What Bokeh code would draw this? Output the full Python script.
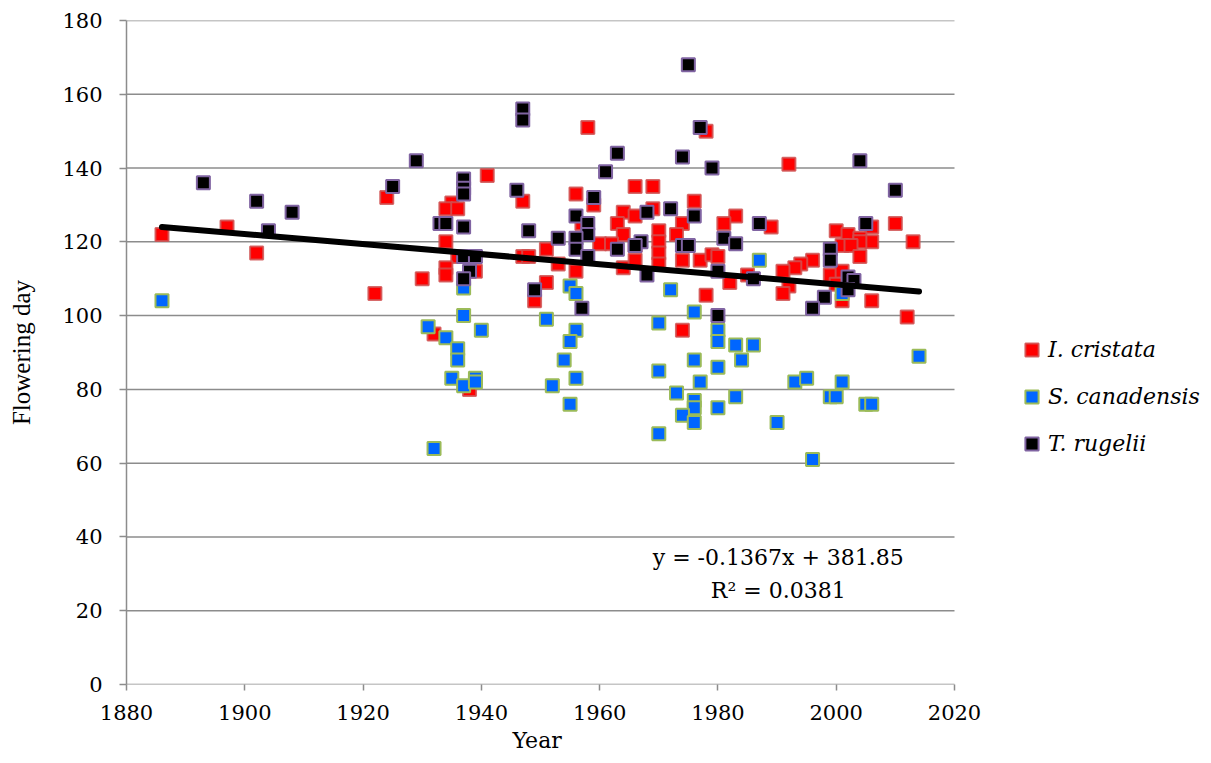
from bokeh.plotting import figure
from bokeh.models import Range1d, FixedTicker, Label, Legend, LegendItem, Title
from bokeh.embed import file_html
from bokeh.resources import INLINE

# ---- data ----
cristata_year = [1886, 1897, 1902, 1922, 1924, 1941, 1947, 1935, 1934, 1936, 1934, 1951, 1947, 1948,
                 1936, 1934, 1934, 1939, 1930, 1951, 1949, 1932, 1938, 1958, 1978, 1966, 1969, 1956,
                 1959, 1976, 1969, 1964, 1983, 1966, 1963, 1974, 1957, 1970, 1964, 1973, 1981, 1960,
                 1962, 1966, 1970, 1970, 1974, 1977, 1979, 1980, 1953, 1956, 1964, 1966, 1970, 1982,
                 1978, 1974, 1992, 1989, 2010, 2006, 2000, 2002, 2004, 2013, 2006, 2004, 2001, 2002.5,
                 2004, 1996, 1994, 1993, 1991, 1985, 1999, 2001, 1992, 1991, 2000, 2001, 2006, 2012]
cristata_day = [122, 124, 117, 106, 132, 138, 131, 130.5, 129, 129, 120, 118, 116, 116,
                116, 113, 111, 112, 110, 109, 104, 95, 80, 151, 150, 135, 135, 133,
                130, 131, 129, 128, 127, 127, 125, 125, 125, 123, 122, 122, 125, 119.5,
                119.5, 119, 120, 117, 115, 115, 116.5, 116, 114, 112, 113, 115, 114, 109,
                105.5, 96, 141, 124, 125, 124, 123, 122, 121, 120, 120, 120, 119, 119,
                116, 115, 114, 113, 112, 111, 111, 112, 108, 106, 108.5, 104, 104, 99.6]

canadensis_year = [1886, 1937, 1937, 1951, 1931, 1934, 1940, 1936, 1936, 1954, 1935, 1937, 1939, 1939,
                   1952, 1932, 1955, 1956, 1972, 1956, 1955, 1956, 1955, 1976, 1970, 1980, 1980, 1983,
                   1976, 1980, 1970, 1984, 1977, 1973, 1976, 1976, 1974, 1976, 1980, 1983, 1970, 1987,
                   2001, 2014, 1986, 1993, 1995, 2001, 1999, 2000, 2005, 2006, 1990, 1996]
canadensis_day = [104, 107.5, 100, 99, 97, 94, 96, 91, 88, 88, 83, 81, 83, 82,
                  81, 64, 108, 106, 107, 96, 93, 83, 76, 101, 98, 96, 93, 92,
                  88, 86, 85, 88, 82, 79, 77, 75, 73, 71, 75, 78, 68, 115,
                  106, 89, 92, 82, 83, 82, 78, 78, 76, 76, 71, 61]

rugelii_year = [1893, 1902, 1908, 1904, 1947, 1947, 1929, 1925, 1937, 1937, 1937, 1946, 1933, 1934,
                1937, 1948, 1953, 1937, 1939, 1938, 1937, 1949, 1975, 1977, 1963, 1974, 1961, 1979,
                1959, 1976, 1972, 1968, 1956, 1958, 1958, 1981, 1956, 1963, 1967, 1966, 1974, 1975,
                1956, 1983, 1958, 1968, 1980, 1957, 1980, 2004, 2010, 1987, 2005, 1999, 1999, 1986,
                2002, 2003, 2002, 1998, 1996]
rugelii_day = [136, 131, 128, 123, 156, 153, 142, 135, 137, 134.5, 133, 134, 125, 125,
               124, 123, 121, 116, 116, 112, 110, 107, 168, 151, 144, 143, 139, 140,
               132, 127, 129, 128, 127, 125, 122, 121, 121, 118, 120, 119, 119, 119,
               118, 119.5, 116, 111, 112, 102, 100, 142, 134, 125, 125, 118, 115, 110,
               110.5, 109.5, 107, 105, 102]

series_names = ["I. cristata", "S. canadensis", "T. rugelii"]
trend_slope = -0.1367
trend_intercept = 381.85
trend_years = [1886, 2014]
trend_text = "y = -0.1367x + 381.85"
r2_text = "R\u00b2 = 0.0381"
x_ticks = [1880, 1900, 1920, 1940, 1960, 1980, 2000, 2020]
y_ticks = [0, 20, 40, 60, 80, 100, 120, 140, 160, 180]

FONT = "DejaVu Serif"
GRID = "#8c8c8c"

# frame spans the legend area too (so the legend is not clipped);
# the data area 1880-2020 occupies the left 828 px of it
W, LEFT = 1209, 126
x_end = x_ticks[0] + (x_ticks[-1] - x_ticks[0]) * (W - LEFT) / 828.0

p = figure(width=W, height=762, output_backend="svg", toolbar_location=None,
           x_range=Range1d(x_ticks[0], x_end), y_range=Range1d(y_ticks[0], y_ticks[-1]),
           min_border_left=LEFT, min_border_right=0, min_border_top=20, min_border_bottom=78)
p.outline_line_color = None
p.background_fill_color = "white"
p.xgrid.grid_line_color = None
p.ygrid.grid_line_color = None

# horizontal gridlines only across the data area
n = len(y_ticks)
p.segment(x0=[x_ticks[0]] * n, y0=y_ticks, x1=[x_ticks[-1]] * n, y1=y_ticks,
          line_color=GRID, line_width=1.5)

p.xaxis.ticker = FixedTicker(ticks=x_ticks)
p.yaxis.ticker = FixedTicker(ticks=y_ticks)
for ax in (p.xaxis, p.yaxis):
    ax.axis_line_color = GRID
    ax.axis_line_width = 1.5
    ax.major_tick_line_color = GRID
    ax.major_tick_line_width = 1.5
    ax.minor_tick_line_color = None
    ax.major_tick_in = 0
    ax.major_label_text_font = FONT
    ax.major_label_text_font_size = "21px"
    ax.major_label_text_color = "black"
p.xaxis.axis_line_color = None
p.yaxis.major_tick_out = 7
p.yaxis.major_label_standoff = 17
p.xaxis.major_tick_out = 6
p.xaxis.major_label_standoff = 14

p.yaxis.axis_label = "Flowering day"
p.yaxis.axis_label_text_font = "Liberation Serif"
p.yaxis.axis_label_text_font_style = "normal"
p.yaxis.axis_label_text_font_size = "25px"
p.yaxis.axis_label_text_color = "black"
p.yaxis.axis_label_standoff = 24

# x-axis title, centred under the 1880-2020 data area
p.add_layout(Title(text="Year", align="left", offset=386, standoff=6,
                   text_font=FONT, text_font_style="normal", text_font_size="22px",
                   text_color="black"), "below")

r1 = p.scatter(cristata_year, cristata_day, marker="square", size=13,
               fill_color="#ff0000", line_color="#d05050", line_width=2, line_alpha=0.85)
r2 = p.scatter(canadensis_year, canadensis_day, marker="square", size=13,
               fill_color="#0066ff", line_color="#9bbb59", line_width=2)
r3 = p.scatter(rugelii_year, rugelii_day, marker="square", size=13,
               fill_color="#000000", line_color="#8064a2", line_width=2)

trend_vals = [trend_slope * x + trend_intercept for x in trend_years]
p.line(trend_years, trend_vals, line_color="black", line_width=6, line_cap="round")

p.add_layout(Label(x=1990.2, y=34.3, text=trend_text, text_align="center", text_baseline="middle",
                   text_font=FONT, text_font_size="22px", text_color="black"))
p.add_layout(Label(x=1990.2, y=25.6, text=r2_text, text_align="center", text_baseline="middle",
                   text_font=FONT, text_font_size="22px", text_color="black"))

legend = Legend(items=[LegendItem(label=series_names[0], renderers=[r1]),
                       LegendItem(label=series_names[1], renderers=[r2]),
                       LegendItem(label=series_names[2], renderers=[r3])],
                location=(889, 224), glyph_width=33, glyph_height=33, label_standoff=0,
                spacing=14, padding=0, margin=0, border_line_color=None,
                background_fill_alpha=0, label_text_font=FONT, label_text_font_style="italic",
                label_text_font_size="22px", label_text_color="black")
p.add_layout(legend, "center")

open("out.html", "w").write(file_html(p, INLINE))
